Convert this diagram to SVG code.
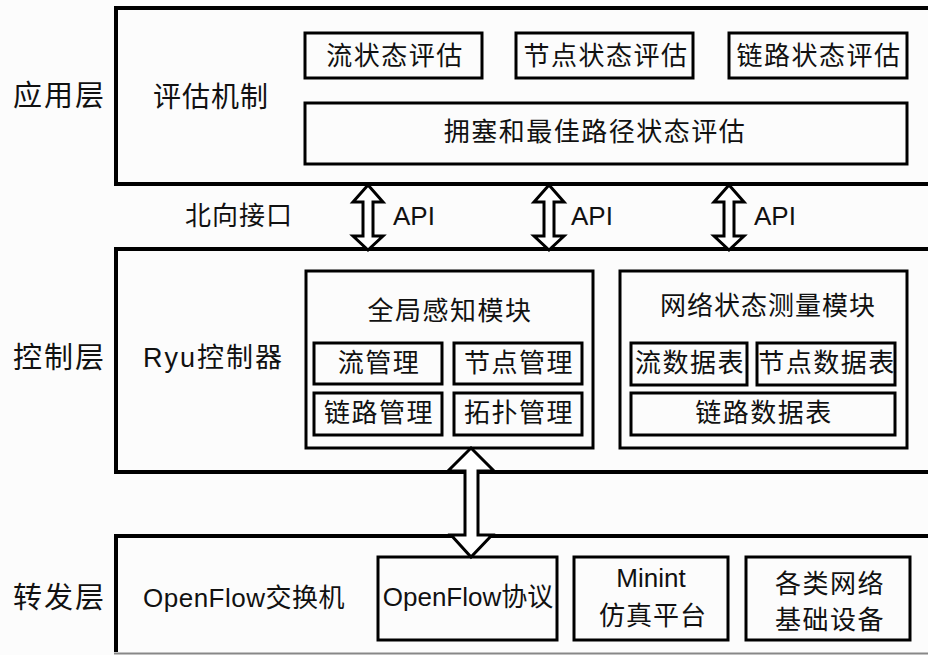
<svg xmlns="http://www.w3.org/2000/svg" width="928" height="655" viewBox="0 0 928 655">
<style>
text{font-family:"Liberation Sans","Noto Sans CJK SC",sans-serif;font-size:26px;fill:#111;dominant-baseline:central;}
.c{text-anchor:middle;letter-spacing:1.5px;}
.layer{fill:none;stroke:#000;stroke-width:4;}
.box{fill:none;stroke:#000;stroke-width:3;}
.lbl{font-size:29px;letter-spacing:2px;}
.arr{fill:#fff;stroke:#000;stroke-width:3;stroke-linejoin:miter;}
</style>
<rect width="928" height="655" fill="#fcfcfc"/>

<g id="layer-labels">
<text class="lbl" x="13" y="96">应用层</text>
<text class="lbl" x="13" y="358">控制层</text>
<text class="lbl" x="13" y="598">转发层</text>
<text x="185" y="216" style="letter-spacing:1px">北向接口</text>
</g>

<g id="app-layer">
<rect class="layer" x="116" y="8" width="830" height="176"/>
<text x="153" y="97" style="font-size:28px;letter-spacing:1px">评估机制</text>
</g>
<g id="flow-eval"><rect class="box" x="305" y="33" width="177" height="45"/><text class="c" x="395" y="56">流状态评估</text></g>
<g id="node-eval"><rect class="box" x="516" y="33" width="177" height="45"/><text class="c" x="606" y="56">节点状态评估</text></g>
<g id="link-eval"><rect class="box" x="729" y="33" width="178" height="45"/><text class="c" x="819" y="56">链路状态评估</text></g>
<g id="congestion-eval"><rect class="box" x="305" y="103" width="602" height="61"/><text class="c" x="595" y="132">拥塞和最佳路径状态评估</text></g>

<g id="control-layer">
<rect class="layer" x="116" y="249" width="830" height="223"/>
<text x="143" y="358" style="font-size:27px;letter-spacing:2px">Ryu控制器</text>
</g>
<g id="global-module">
<rect class="box" x="306" y="271" width="287" height="177"/>
<text class="c" x="450" y="311">全局感知模块</text>
</g>
<g id="flow-mgmt"><rect class="box" x="314" y="343" width="128" height="41"/><text class="c" x="379" y="363">流管理</text></g>
<g id="node-mgmt"><rect class="box" x="454" y="343" width="128" height="41"/><text class="c" x="519" y="363">节点管理</text></g>
<g id="link-mgmt"><rect class="box" x="314" y="393" width="128" height="42"/><text class="c" x="379" y="413">链路管理</text></g>
<g id="topo-mgmt"><rect class="box" x="454" y="393" width="128" height="42"/><text class="c" x="519" y="413">拓扑管理</text></g>
<g id="measure-module">
<rect class="box" x="620" y="271" width="287" height="177"/>
<text class="c" x="768" y="306" style="letter-spacing:1px">网络状态测量模块</text>
</g>
<g id="flow-table"><rect class="box" x="631" y="343" width="116" height="42"/><text class="c" x="690" y="363">流数据表</text></g>
<g id="node-table"><rect class="box" x="757" y="343" width="138" height="42"/><text class="c" x="827" y="363">节点数据表</text></g>
<g id="link-table"><rect class="box" x="631" y="393" width="264" height="42"/><text class="c" x="764" y="413">链路数据表</text></g>

<g id="forward-layer">
<path class="layer" d="M946,536 L116,536 L116,652"/>
<line x1="114" y1="653.5" x2="928" y2="653.5" stroke="#888" stroke-width="2"/>
<text x="143" y="598" style="letter-spacing:0.5px">OpenFlow交换机</text>
</g>
<g id="openflow-protocol"><rect class="box" x="378" y="557" width="179" height="83"/><text class="c" x="468" y="597" style="letter-spacing:0px">OpenFlow协议</text></g>
<g id="mininet"><rect class="box" x="574" y="557" width="154" height="83"/><text class="c" x="651" y="578" style="letter-spacing:0px">Minint</text><text class="c" x="653" y="616" style="letter-spacing:1px">仿真平台</text></g>
<g id="devices"><rect class="box" x="746" y="557" width="164" height="83"/><text class="c" x="830" y="584">各类网络</text><text class="c" x="830" y="620">基础设备</text></g>

<g id="connectors">
<path class="arr" d="M368,185 L383,202 L373,202 L373,236 L383,236 L368,250 L353,236 L363,236 L363,202 L353,202 Z"/>
<path class="arr" d="M549,185 L564,202 L554,202 L554,236 L564,236 L549,250 L534,236 L544,236 L544,202 L534,202 Z"/>
<path class="arr" d="M729,185 L744,202 L734,202 L734,236 L744,236 L729,250 L714,236 L724,236 L724,202 L714,202 Z"/>
<text x="393" y="216">API</text>
<text x="571" y="216">API</text>
<text x="754" y="216">API</text>
<path class="arr" d="M471,448 L494,471 L478,471 L478,535 L492,535 L471,557 L451,535 L465,535 L465,471 L448,471 Z"/>
</g>
</svg>
